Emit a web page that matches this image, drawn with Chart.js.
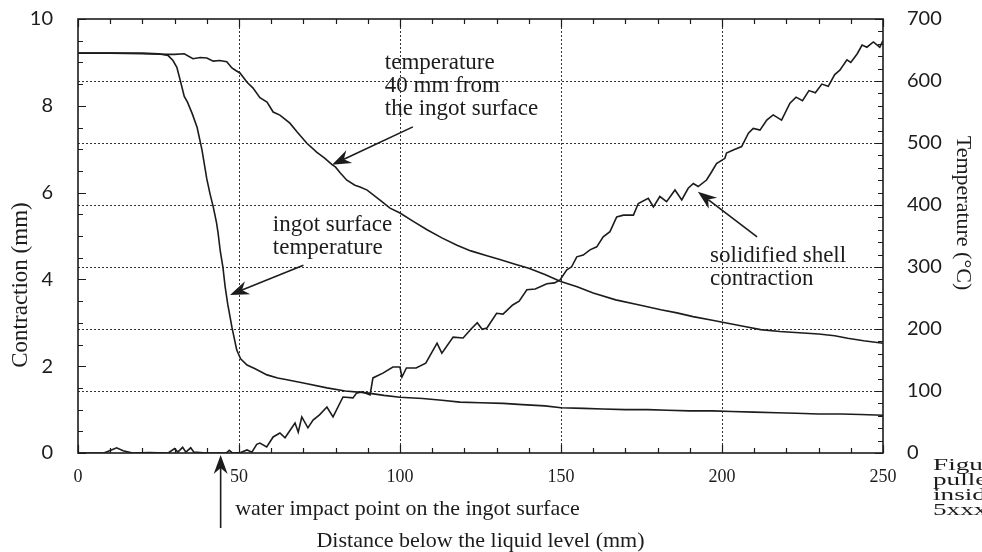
<!DOCTYPE html>
<html>
<head>
<meta charset="utf-8">
<script src="https://cdn.jsdelivr.net/npm/chart.js@4.4.1/dist/chart.umd.min.js"></script>
<style>
html, body { margin: 0; padding: 0; background: #fff; }
</style>
</head>
<body>
<canvas id="chart" width="982" height="552"></canvas>
<script>
//////////////////////// data ////////////////////////
// ingot surface temperature (right axis, degC)
var surfDist = [0, 5, 10, 15, 20, 25, 28, 29.5, 30.7, 31.7, 33, 34, 35.5, 37, 38.5, 40, 41, 42, 43, 43.5, 44.2, 45, 45.7, 46.5, 47.8, 49.3, 50.5, 52.5, 55, 58.7, 62, 64.9, 70, 77.3, 83, 89.7, 95, 100, 107, 113, 118.6, 125, 132, 138, 145, 150, 157, 163, 170, 177, 183, 190, 197, 203, 210, 217, 223, 230, 237, 243, 250];
var surfTemp = [645, 645, 645, 645, 645, 644, 641, 633, 622, 602, 575, 566, 547, 525, 489, 442, 418, 397, 372, 355, 325, 300, 268, 240, 203, 166, 152, 142, 136, 126, 121, 118, 113, 105, 100, 97, 93, 90, 88, 85, 82, 81, 80, 78, 76, 73, 72, 71, 70, 70, 69, 68, 68, 67, 66, 65, 64, 63, 63, 62, 61];

// temperature 40 mm from the ingot surface (right axis, degC)
var innerDist = [0, 10, 20, 28, 30, 33, 35.7, 38, 40, 42, 44, 46.2, 47.8, 49, 50.3, 52.5, 54.3, 56.5, 58.7, 60.6, 62.7, 65.8, 68, 71, 74.2, 76.5, 78.9, 80, 81.4, 83.5, 86, 87.6, 89.8, 93.8, 96.9, 100, 104, 108.4, 113, 117.7, 122, 127, 131, 136, 140, 145, 149.7, 155, 160, 167, 174, 181, 186, 191, 197, 203, 207, 212, 218, 224, 230, 235, 239, 244, 250];
var innerTemp = [645, 645, 644, 643, 643, 644, 636, 638, 637, 632, 633, 631, 621, 617, 613, 598, 589, 573, 566, 550, 545, 532, 518, 500, 485, 476, 465, 461, 452, 440, 432, 429, 424, 408, 395, 387, 374, 360, 347, 335, 326, 318, 312, 304, 298, 288, 277, 268, 258, 247, 239, 231, 226, 220, 214, 208, 204, 199, 196, 194, 192, 189, 185, 181, 177];

// solidified shell contraction (left axis, mm)
var shellDist = [0, 4, 8, 10, 12, 14, 17, 22, 28, 30, 31, 32.5, 33.5, 35, 36, 40, 44, 46, 47, 48, 50.5, 52.5, 54, 55.5, 56.5, 58.6, 60.6, 62.7, 64.3, 67.4, 68.4, 69.5, 71.4, 73, 75, 77.3, 79.2, 82.3, 85.4, 86.5, 88.2, 90.7, 91.6, 94.7, 97.8, 100, 100.6, 102, 105, 108, 111.5, 113, 116.5, 119.6, 122, 124, 125.5, 127, 130, 132, 135, 137, 139.4, 142, 145.6, 148, 149.7, 151.8, 153.3, 154.9, 156.9, 159, 161.1, 163.1, 165.2, 167.3, 169.4, 172.5, 174, 177.1, 178.7, 180.7, 182.8, 185.4, 187.5, 189.5, 191.1, 192.6, 195.2, 196.8, 198.3, 200.9, 201.4, 203.5, 206.1, 208.2, 209.7, 211.8, 213.9, 215.9, 218.5, 221.1, 223, 225, 227, 229, 231, 233, 235, 236.6, 238.8, 240, 242, 243.5, 245, 247, 249, 250];
var shellContraction = [0, 0, 0, 0.06, 0.12, 0.05, 0, 0.01, 0, 0.1, 0.02, 0.13, 0.02, 0.12, 0.02, 0, 0, 0, 0.06, 0, 0.01, 0.07, 0.02, 0.2, 0.23, 0.14, 0.37, 0.46, 0.35, 0.69, 0.48, 0.83, 0.58, 0.76, 0.88, 1.06, 0.83, 1.29, 1.27, 1.38, 1.41, 1.34, 1.73, 1.84, 1.98, 1.98, 1.75, 1.96, 1.96, 2.07, 2.53, 2.3, 2.67, 2.65, 2.85, 3.0, 2.85, 2.88, 3.22, 3.2, 3.41, 3.5, 3.76, 3.78, 3.9, 3.92, 3.99, 4.22, 4.29, 4.52, 4.56, 4.68, 4.75, 4.98, 5.1, 5.44, 5.48, 5.48, 5.75, 5.87, 5.67, 5.91, 5.79, 6.06, 5.83, 6.1, 6.21, 6.14, 6.29, 6.48, 6.67, 6.79, 6.91, 6.98, 7.06, 7.37, 7.48, 7.44, 7.67, 7.79, 7.67, 8.06, 8.2, 8.12, 8.35, 8.3, 8.5, 8.45, 8.72, 8.82, 9.06, 9.0, 9.2, 9.4, 9.35, 9.47, 9.35, 9.5];

// axis ranges and tick steps
var xTicks = [0, 250, 50];          // min, max, labelled step
var leftTicks = [0, 10, 2];
var rightTicks = [0, 700, 100];

//////////////////////// helpers ////////////////////////
function toPoints(xs, ys) {
    var pts = [];
    for (var i = 0; i < xs.length; i++) {
        pts.push({ x: xs[i], y: ys[i] });
    }
    return pts;
}

var serif = "'Liberation Serif', 'Times New Roman', serif";
var sans = "Lato, 'Open Sans', sans-serif";
var ink = '#1c1c1c';

function drawArrow(ctx, x1, y1, x2, y2) {
    // x1,y1 = tail, x2,y2 = tip
    var ang = Math.atan2(y2 - y1, x2 - x1);
    var len = 19, half = 7, notch = 13;
    ctx.save();
    ctx.strokeStyle = ink;
    ctx.fillStyle = ink;
    ctx.lineWidth = 1.6;
    ctx.beginPath();
    ctx.moveTo(x1, y1);
    ctx.lineTo(x2 - Math.cos(ang) * notch, y2 - Math.sin(ang) * notch);
    ctx.stroke();
    ctx.translate(x2, y2);
    ctx.rotate(ang);
    ctx.beginPath();
    ctx.moveTo(0, 0);
    ctx.lineTo(-len, -half);
    ctx.lineTo(-notch, 0);
    ctx.lineTo(-len, half);
    ctx.closePath();
    ctx.fill();
    ctx.restore();
}

function textLines(ctx, lines, x, y, gap) {
    for (var i = 0; i < lines.length; i++) {
        ctx.fillText(lines[i], x, y + i * gap);
    }
}

function noLabelOverflow(s) {
    s.paddingTop = 0;
    s.paddingBottom = 0;
}

//////////////////////// frame + inward ticks ////////////////////////
var framePlugin = {
    id: 'frame',
    beforeDatasetsDraw: function (chart) {
        var ctx = chart.ctx;
        var a = chart.chartArea;
        var sx = chart.scales.x, sl = chart.scales.y, sr = chart.scales.y1;
        ctx.save();
        ctx.strokeStyle = ink;
        ctx.lineWidth = 1.2;
        var v, p, len;
        ctx.beginPath();
        for (v = 0; v <= 250; v += 10) {
            p = Math.round(sx.getPixelForValue(v)) + 0.5;
            len = (v % 50 === 0) ? 8 : 5;
            ctx.moveTo(p, a.bottom); ctx.lineTo(p, a.bottom - len);
            ctx.moveTo(p, a.top); ctx.lineTo(p, a.top + len);
        }
        for (v = 0; v <= 10.0001; v += 0.5) {
            p = Math.round(sl.getPixelForValue(v)) + 0.5;
            len = (Math.abs(v % 2) < 0.001) ? 8 : 5;
            ctx.moveTo(a.left, p); ctx.lineTo(a.left + len, p);
        }
        for (v = 0; v <= 700; v += 20) {
            p = Math.round(sr.getPixelForValue(v)) + 0.5;
            len = (v % 100 === 0) ? 8 : 5;
            ctx.moveTo(a.right, p); ctx.lineTo(a.right - len, p);
        }
        ctx.stroke();
        ctx.lineWidth = 1.6;
        ctx.strokeRect(a.left, a.top, a.right - a.left, a.bottom - a.top);
        ctx.restore();
    },
    afterDraw: function (chart) {
        var ctx = chart.ctx;
        var a = chart.chartArea;
        var sx = chart.scales.x, sl = chart.scales.y, sr = chart.scales.y1;
        ctx.save();
        ctx.fillStyle = ink;
        ctx.textBaseline = 'middle';

        // axis titles
        ctx.font = '22px ' + serif;
        ctx.textAlign = 'center';
        ctx.fillText('Distance below the liquid level (mm)', (a.left + a.right) / 2, 541);

        ctx.save();
        ctx.translate(21, 285);
        ctx.rotate(-Math.PI / 2);
        ctx.font = '23px ' + serif;
        ctx.fillText('Contraction (mm)', 0, 0);
        ctx.restore();

        ctx.save();
        ctx.translate(963, 213);
        ctx.rotate(Math.PI / 2);
        ctx.font = '22px ' + serif;
        ctx.fillText('Temperature (\u00B0C)', 0, 0);
        ctx.restore();

        // curve labels
        ctx.textAlign = 'left';
        ctx.font = '23px ' + serif;
        textLines(ctx, ['temperature', '40 mm from', 'the ingot surface'],
            sx.getPixelForValue(95.3), sr.getPixelForValue(629), 23);
        textLines(ctx, ['ingot surface', 'temperature'],
            sx.getPixelForValue(60.5), sr.getPixelForValue(368), 23);
        textLines(ctx, ['solidified shell', 'contraction'],
            sx.getPixelForValue(196.3), sr.getPixelForValue(318), 23);

        drawArrow(ctx, sx.getPixelForValue(104), sr.getPixelForValue(526),
            sx.getPixelForValue(78.9), sr.getPixelForValue(465));
        drawArrow(ctx, sx.getPixelForValue(70), sr.getPixelForValue(303),
            sx.getPixelForValue(47.2), sr.getPixelForValue(255));
        drawArrow(ctx, sx.getPixelForValue(210.9), sl.getPixelForValue(4.98),
            sx.getPixelForValue(192.5), sl.getPixelForValue(6.02));

        // water impact point marker below the axis
        var wx = sx.getPixelForValue(44.3);
        drawArrow(ctx, wx, a.bottom + 75, wx, a.bottom + 2);
        ctx.font = '22px ' + serif;
        ctx.fillText('water impact point on the ingot surface', sx.getPixelForValue(48.8), a.bottom + 56);

        // cropped caption of the page (wide scan type)
        ctx.save();
        ctx.translate(933, 466);
        ctx.scale(1.6, 1);
        ctx.font = '17px ' + serif;
        textLines(ctx, ['Figure', 'pulled', 'inside', '5xxx'], 0, 0, 15);
        ctx.restore();
        ctx.restore();
    }
};

//////////////////////// chart ////////////////////////
function lineSet(label, xs, ys, axis) {
    return {
        label: label,
        data: toPoints(xs, ys),
        yAxisID: axis,
        borderColor: ink,
        borderWidth: 1.6,
        pointRadius: 0,
        tension: 0,
        fill: false
    };
}

var ctx = document.getElementById('chart').getContext('2d');
var chart = new Chart(ctx, {
    type: 'line',
    data: {
        datasets: [
            lineSet('ingot surface temperature', surfDist, surfTemp, 'y1'),
            lineSet('temperature 40 mm from the ingot surface', innerDist, innerTemp, 'y1'),
            lineSet('solidified shell contraction', shellDist, shellContraction, 'y')
        ]
    },
    options: {
        responsive: false,
        animation: false,
        devicePixelRatio: 1,
        layout: { padding: { top: 19, left: 0, right: 0, bottom: 0 } },
        plugins: { legend: { display: false }, tooltip: { enabled: false } },
        scales: {
            x: {
                type: 'linear',
                min: xTicks[0], max: xTicks[1],
                afterFit: function (s) { s.height = 99; },
                ticks: {
                    stepSize: xTicks[2],
                    padding: 13,
                    color: ink,
                    font: { family: serif, size: 18 }
                },
                grid: {
                    drawTicks: false,
                    lineWidth: 1,
                    color: function (c) {
                        var v = c.tick ? c.tick.value : 0;
                        return (v === xTicks[0] || v === xTicks[1]) ? 'rgba(0,0,0,0)' : '#333';
                    }
                },
                border: { display: false, dash: [2, 2] }
            },
            y: {
                position: 'left',
                min: leftTicks[0], max: leftTicks[1],
                afterFit: function (s) { s.width = 78; noLabelOverflow(s); },
                ticks: {
                    stepSize: leftTicks[2],
                    padding: 25,
                    color: ink,
                    font: { family: sans, size: 20 }
                },
                grid: { display: false, drawTicks: false },
                border: { display: false }
            },
            y1: {
                position: 'right',
                min: rightTicks[0], max: rightTicks[1],
                afterFit: function (s) { s.width = 99; noLabelOverflow(s); },
                ticks: {
                    stepSize: rightTicks[2],
                    padding: 24,
                    color: ink,
                    font: { family: sans, size: 20 }
                },
                grid: {
                    drawTicks: false,
                    lineWidth: 1,
                    color: function (c) {
                        var v = c.tick ? c.tick.value : 0;
                        return (v === rightTicks[0] || v === rightTicks[1]) ? 'rgba(0,0,0,0)' : '#333';
                    }
                },
                border: { display: false, dash: [2, 2] }
            }
        }
    },
    plugins: [framePlugin]
});
</script>
</body>
</html>
